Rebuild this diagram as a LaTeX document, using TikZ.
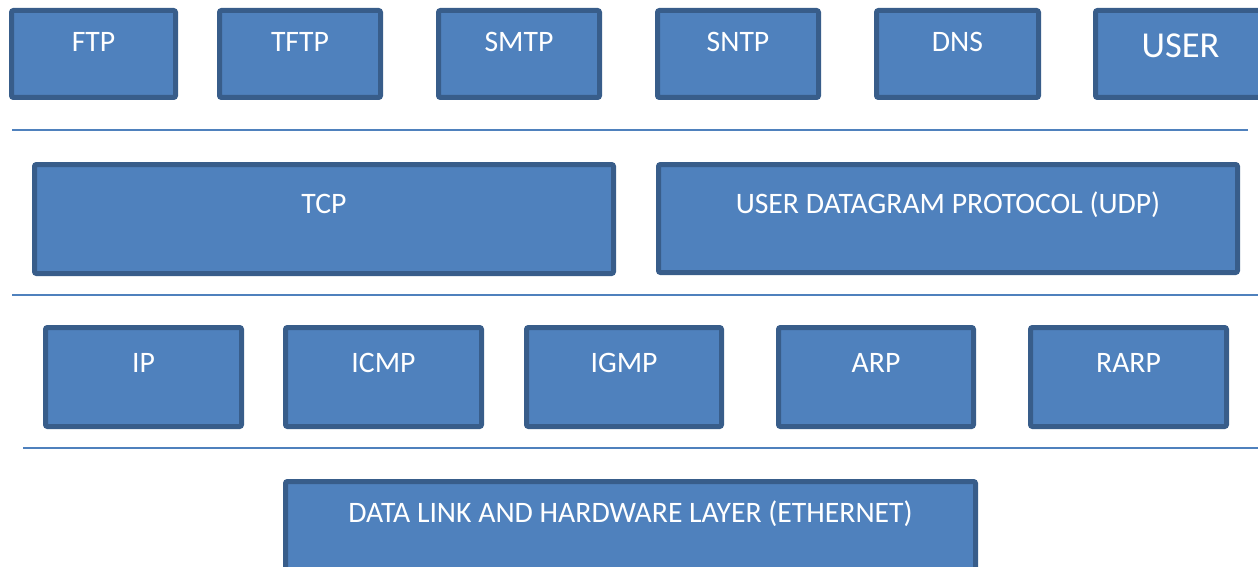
\documentclass[tikz,border=0pt]{standalone}
\usepackage{fontspec}
\setmainfont{Carlito}
\definecolor{boxfill}{HTML}{4F81BD}
\definecolor{boxedge}{HTML}{385D8A}
\definecolor{rulecol}{HTML}{4F81BD}
\tikzset{
  layerbox/.style={draw=boxedge, fill=boxfill, line width=5pt, rounded corners=2pt,
    inner sep=0pt, outer sep=0pt},
  lbl/.style={text=white, font=\fontsize{29.7}{34}\selectfont, inner sep=0pt, anchor=base},
  biglbl/.style={lbl, font=\fontsize{36.5}{42}\selectfont},
  sep/.style={draw=rulecol, line width=2pt}
}
% #1 name, #2 x1, #3 y1, #4 x2, #5 y2 (outer edges), #6 baseline, #7 style, #8 text
\newcommand\protobox[8]{%
  \node[layerbox, minimum width={#4-#2-5}, minimum height={#5-#3-5}]
    (#1) at ({(#2+#4)/2},{(#3+#5)/2}) {};
  \node[#7] (#1-t) at ({(#2+#4)/2},#6) {#8};
}
\begin{document}
\begin{tikzpicture}[x=1pt, y=-1pt]
\useasboundingbox (0,0) rectangle (1258,567);
\clip (0,0) rectangle (1258,567);
% application layer
\protobox{ftp}{9}{8}{178}{100}{52}{lbl}{FTP}
\protobox{tftp}{217}{8}{383}{100}{52}{lbl}{TFTP}
\protobox{smtp}{436}{8}{602}{100}{52}{lbl}{SMTP}
\protobox{sntp}{655}{8}{821}{100}{52}{lbl}{SNTP}
\protobox{dns}{874}{8}{1041}{100}{52}{lbl}{DNS}
\protobox{user}{1093}{8}{1268}{100}{58}{biglbl}{USER}
\coordinate (r1a) at (12,130); \coordinate (r1b) at (1248,130);
\draw[sep] (r1a) -- (r1b);
% transport layer
\protobox{tcp}{32}{162}{616}{276}{213}{lbl}{TCP}
\protobox{udp}{656}{162}{1240}{275}{213}{lbl}{USER DATAGRAM PROTOCOL (UDP)}
\coordinate (r2a) at (12,295); \coordinate (r2b) at (1260,295);
\draw[sep] (r2a) -- (r2b);
% network layer
\protobox{ip}{43}{325}{244}{429}{372}{lbl}{IP}
\protobox{icmp}{283}{325}{484}{429}{372}{lbl}{ICMP}
\protobox{igmp}{524}{325}{724}{429}{372}{lbl}{IGMP}
\protobox{arp}{776}{325}{976}{429}{372}{lbl}{ARP}
\protobox{rarp}{1028}{325}{1229}{429}{372}{lbl}{RARP}
\coordinate (r3a) at (23,448); \coordinate (r3b) at (1260,448);
\draw[sep] (r3a) -- (r3b);
% link layer
\protobox{link}{283}{479}{978}{580}{522}{lbl}{DATA LINK AND HARDWARE LAYER (ETHERNET)}
\end{tikzpicture}
\end{document}
